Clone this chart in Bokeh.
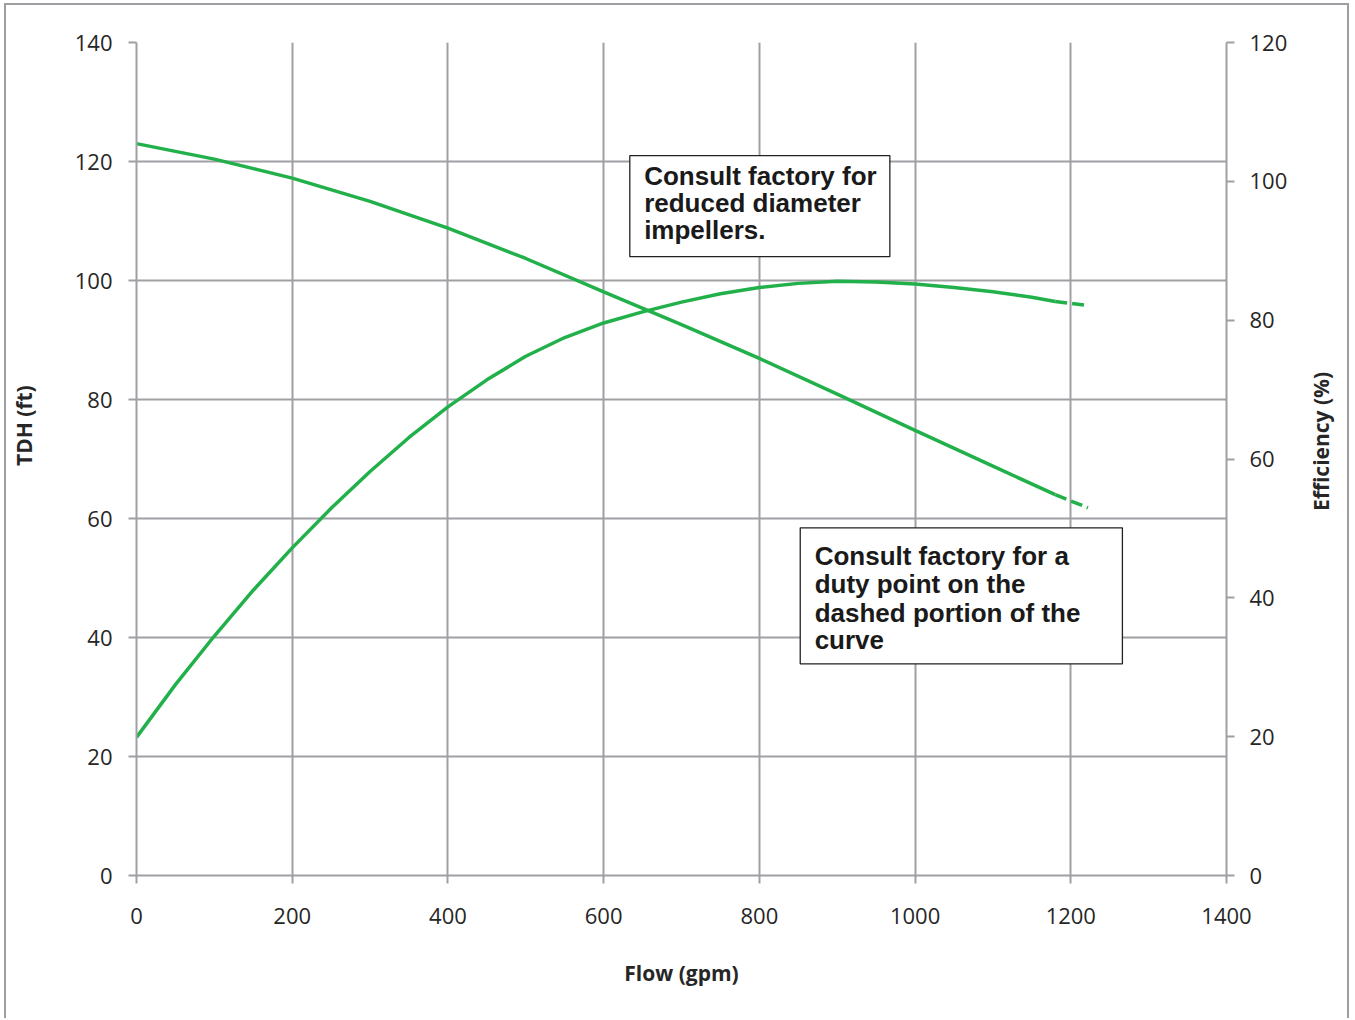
import math
from bokeh.plotting import figure
from bokeh.models import Range1d, LinearAxis, FixedTicker, BoxAnnotation, Label
from bokeh.embed import file_html
from bokeh.resources import INLINE

# ---- data ----
flow_head = [0, 100, 200, 300, 400, 500, 600, 700, 800, 900, 1000, 1100, 1180]
head_ft = [123.0, 120.4, 117.2, 113.3, 108.8, 103.7, 98.1, 92.6, 86.9, 80.9, 74.8, 68.8, 64.0]
flow_head_dash = [1180, 1222]
head_ft_dash = [64.0, 61.8]

flow_eff = [0, 50, 100, 150, 200, 250, 300, 350, 400, 450, 500, 550, 600, 650, 700, 750,
            800, 850, 900, 950, 1000, 1050, 1100, 1150, 1180]
eff_pct = [19.9, 27.5, 34.5, 41.1, 47.2, 52.9, 58.2, 63.1, 67.5, 71.4, 74.8, 77.5, 79.6, 81.2,
           82.6, 83.8, 84.7, 85.3, 85.6, 85.5, 85.2, 84.7, 84.1, 83.3, 82.7]
flow_eff_dash = [1180, 1222]
eff_pct_dash = [82.7, 82.1]

x_ticks = [0, 200, 400, 600, 800, 1000, 1200, 1400]
head_ticks = [0, 20, 40, 60, 80, 100, 120, 140]
eff_ticks = [0, 20, 40, 60, 80, 100, 120]

note_top = ["Consult factory for", "reduced diameter", "impellers."]
note_bottom = ["Consult factory for a", "duty point on the", "dashed portion of the", "curve"]

GREEN = "#22B04B"
GRID = "#A0A0A4"
TXT = "#262626"
FRAME = "#9E9EA2"

p = figure(width=1345, height=1015, output_backend="svg", toolbar_location=None,
           x_range=Range1d(0, 1400), y_range=Range1d(0, 140),
           min_border_left=130, min_border_right=125, min_border_top=37, min_border_bottom=145)
p.styles = {"margin-left": "4px", "margin-top": "3px",
            "border-left": f"2px solid {FRAME}", "border-top": f"2px solid {FRAME}",
            "border-right": f"2px solid {FRAME}"}
p.outline_line_color = None
p.background_fill_color = "white"
p.border_fill_color = "white"

p.extra_y_ranges = {"eff": Range1d(0, 120)}


def style_visible(ax):
    ax.axis_line_color = GRID
    ax.axis_line_width = 2
    ax.major_tick_line_color = GRID
    ax.major_tick_line_width = 2
    ax.major_tick_out = 8
    ax.major_tick_in = 0
    ax.minor_tick_line_color = None
    ax.major_label_text_font = "Open Sans"
    ax.major_label_text_font_size = "22px"
    ax.major_label_text_color = TXT


def style_title(ax, standoff):
    ax.axis_line_color = None
    ax.major_tick_line_color = None
    ax.major_tick_out = 0
    ax.minor_tick_line_color = None
    ax.major_label_standoff = standoff
    ax.major_label_text_font = "Open Sans"
    ax.major_label_text_font_style = "bold"
    ax.major_label_text_font_size = "21px"
    ax.major_label_text_color = TXT


xax = p.xaxis[0]
yax = p.yaxis[0]
xax.ticker = FixedTicker(ticks=x_ticks)
yax.ticker = FixedTicker(ticks=head_ticks)
right_axis = LinearAxis(y_range_name="eff", ticker=FixedTicker(ticks=eff_ticks))
p.add_layout(right_axis, "right")
for ax in [xax, yax, right_axis]:
    style_visible(ax)
xax.major_label_standoff = 24
yax.major_label_standoff = 16
right_axis.major_label_standoff = 15

xax.axis_label = "Flow (gpm)"
xax.axis_label_text_font = "Open Sans"
xax.axis_label_text_font_style = "bold"
xax.axis_label_text_font_size = "21px"
xax.axis_label_text_color = TXT
xax.axis_label_standoff = 32

# left title (reads bottom-to-top), placed through a label-only axis
tdh_title = LinearAxis(ticker=FixedTicker(ticks=[75.6]),
                       major_label_overrides={75.6: "TDH (ft)"})
style_title(tdh_title, 33)
tdh_title.major_label_orientation = "vertical"
p.add_layout(tdh_title, "left")

# right title (reads bottom-to-top), placed through a label-only axis
eff_title = LinearAxis(y_range_name="eff", ticker=FixedTicker(ticks=[52.5]),
                       major_label_overrides={52.5: "Efficiency (%)"})
style_title(eff_title, 30)
eff_title.major_label_orientation = math.pi / 2
p.add_layout(eff_title, "right")

for g in [p.xgrid[0], p.ygrid[0]]:
    g.grid_line_color = GRID
    g.grid_line_width = 2
p.xgrid[0].ticker = FixedTicker(ticks=x_ticks)
p.ygrid[0].ticker = FixedTicker(ticks=head_ticks)

# curves
p.line(flow_head, head_ft, line_color=GREEN, line_width=3.5)
p.line(flow_head_dash, head_ft_dash, line_color=GREEN, line_width=3.5, line_dash="12 5")
p.line(flow_eff, eff_pct, line_color=GREEN, line_width=3.5, y_range_name="eff")
p.line(flow_eff_dash, eff_pct_dash, line_color=GREEN, line_width=3.5, line_dash="12 5",
       y_range_name="eff")

# annotation boxes
p.add_layout(BoxAnnotation(left=633.6, right=967.6, top=121.0, bottom=104.0,
                           fill_color="white", fill_alpha=1.0, line_color="#222222",
                           line_alpha=1.0, line_width=1.3))
p.add_layout(BoxAnnotation(left=852.5, right=1266.3, top=58.44, bottom=35.58,
                           fill_color="white", fill_alpha=1.0, line_color="#222222",
                           line_alpha=1.0, line_width=1.3))

for txt, yy in zip(note_top, [117.5, 113.0, 108.5]):
    p.add_layout(Label(x=652, y=yy, text=txt, text_font="Liberation Sans", text_font_style="bold",
                       text_font_size="26px", text_color="#1A1A1A", text_baseline="alphabetic"))
for txt, yy in zip(note_bottom, [53.7, 48.95, 44.2, 39.6]):
    p.add_layout(Label(x=871, y=yy, text=txt, text_font="Liberation Sans", text_font_style="bold",
                       text_font_size="26px", text_color="#1A1A1A", text_baseline="alphabetic"))

open("out.html", "w").write(file_html(p, INLINE))
